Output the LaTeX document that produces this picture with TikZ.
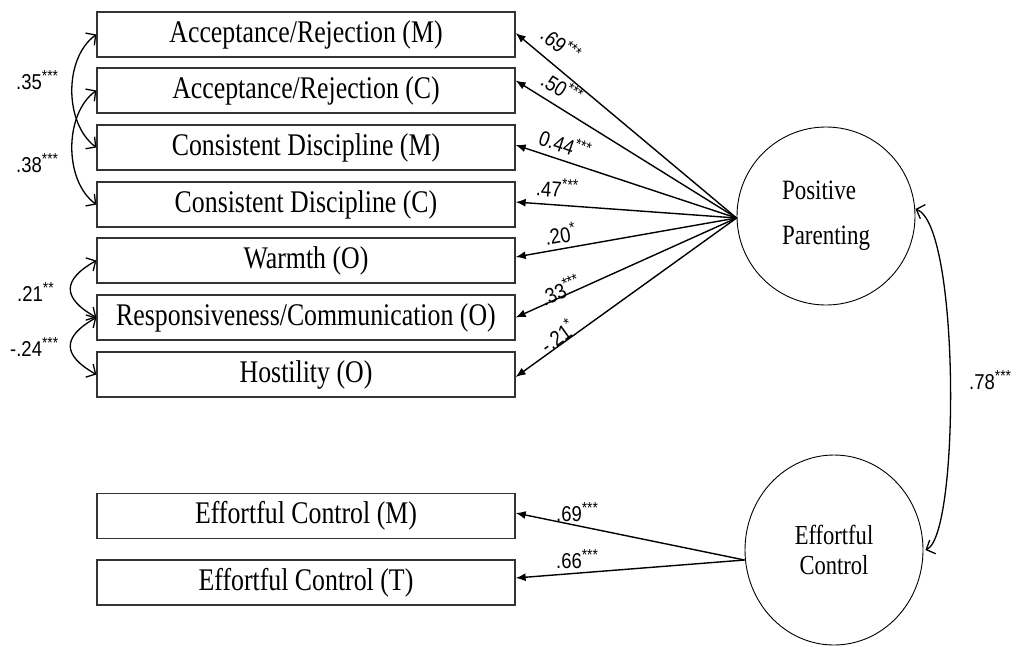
\documentclass[tikz,border=0pt]{standalone}
\usepackage{fontspec}
\usepackage{graphicx}
\usetikzlibrary{arrows.meta,shapes.geometric}
\newfontfamily\boxfont[FakeStretch=0.82]{Liberation Serif}
\newfontfamily\labfont[FakeStretch=0.86]{Liberation Sans}
% significance stars set as a small raised group
\newcommand\sig[1]{\raisebox{0.36em}{\fontsize{16}{16}\selectfont #1}}

\begin{document}
\begin{tikzpicture}[x=1pt,y=-1pt,
  indicator/.style={draw=black!80, line width=1.3pt, minimum width=418pt,
    minimum height=45pt, inner sep=0pt,
    font=\boxfont\fontsize{31.5}{34}\selectfont},
  latent/.style={draw, line width=0.9pt, ellipse, inner sep=0pt},
  loading/.style={line width=1.4pt, -{Latex[length=10pt,width=8pt]}},
  covar/.style={line width=1.3pt,
    {Straight Barb[length=7pt,width=15pt]}-{Straight Barb[length=7pt,width=15pt]}},
  coef/.style={font=\labfont\fontsize{21.5}{23}\selectfont, inner sep=0pt},
]
\useasboundingbox (0,0) rectangle (1016,646);

% observed indicators
\node[indicator] (arm) at (306,34.5)  {Acceptance/Rejection (M)};
\node[indicator] (arc) at (306,90.5)  {Acceptance/Rejection (C)};
\node[indicator] (cdm) at (306,147.5) {Consistent Discipline (M)};
\node[indicator] (cdc) at (306,204.5) {Consistent Discipline (C)};
\node[indicator] (wrm) at (306,260.5) {Warmth (O)};
\node[indicator] (rsp) at (306,317.5) {Responsiveness/Communication (O)};
\node[indicator] (hst) at (306,374.5) {Hostility (O)};
\node[indicator] (ecm) at (306,516)   {Effortful Control (M)};
\node[indicator] (ect) at (306,582.5) {Effortful Control (T)};

% latent factors
\node[latent, minimum width=178pt, minimum height=178pt, align=left,
  font=\boxfont\fontsize{28}{45}\selectfont] (PP) at (826,216) {Positive\\Parenting};
\node[latent, minimum width=178pt, minimum height=190pt, align=center,
  font=\boxfont\fontsize{27.5}{30}\selectfont] (EC) at (834,550) {Effortful\\Control};

% factor loadings
\draw[loading] ([yshift=-2pt]PP.west) -- ([yshift=1.5pt]arm.east);
\draw[loading] ([yshift=-2pt]PP.west) -- ([yshift=10pt]arc.east);
\draw[loading] ([yshift=-2pt]PP.west) -- ([yshift=2.5pt]cdm.east);
\draw[loading] ([yshift=-2pt]PP.west) -- ([yshift=2.5pt]cdc.east);
\draw[loading] ([yshift=-2pt]PP.west) -- ([yshift=3.5pt]wrm.east);
\draw[loading] ([yshift=-2pt]PP.west) -- (rsp.east);
\draw[loading] ([yshift=-2pt]PP.west) -- ([yshift=-2.5pt]hst.east);
\draw[loading] ([yshift=-10pt]EC.west) -- ([yshift=3pt]ecm.east);
\draw[loading] ([yshift=-10pt]EC.west) -- ([yshift=4.5pt]ect.east);

% loading estimates
\node[coef, rotate=-39.8] (larm) at (561,44)  {.69\sig{***}};
\node[coef, rotate=-31.9] (larc) at (562,88)  {.50\sig{***}};
\node[coef, rotate=-19]   (lcdm) at (565,144) {0.44\sig{***}};
\node[coef, rotate=-4]    (lcdc) at (557,188) {.47\sig{***}};
\node[coef, rotate=10]    (lwrm) at (560,234) {.20\sig{*}};
\node[coef, rotate=24]    (lrsp) at (560,290) {.33\sig{***}};
\node[coef, rotate=35.6]  (lhst) at (557,336) {-.21\sig{*}};
\node[coef] (lecm) at (577,512) {.69\sig{***}};
\node[coef] (lect) at (577,559) {.66\sig{***}};

% residual covariances
\draw[covar] (arm.west) .. controls (64,58) and (64,123) .. (cdm.west);
\draw[covar] (arc.west) .. controls (64,114) and (64,181) .. (cdc.west);
\draw[covar] (wrm.west) .. controls (62,280) and (62,298) .. (rsp.west);
\draw[covar] (rsp.west) .. controls (62,337) and (62,355) .. (hst.west);
\draw[covar] ([yshift=7pt]PP.east) .. controls (960,225) and (960,535) .. ([xshift=2pt]EC.east);

\node[coef, anchor=west] (c35) at (16,80)  {.35\sig{***}};
\node[coef, anchor=west] (c38) at (16,163) {.38\sig{***}};
\node[coef, anchor=west] (c21) at (17,292) {.21\sig{**}};
\node[coef, anchor=west] (c24) at (10,347) {-.24\sig{***}};
\node[coef, anchor=west] (c78) at (969,380) {.78\sig{***}};
\end{tikzpicture}
\end{document}
